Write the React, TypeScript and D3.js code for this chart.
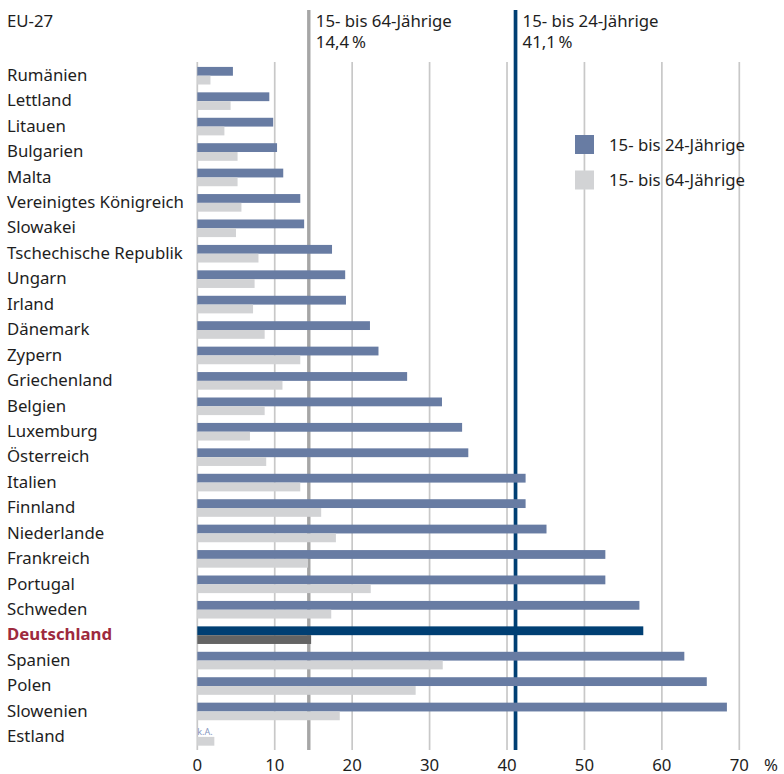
import React from "react";
import * as d3 from "d3";

const countries = [
  "Rumänien", "Lettland", "Litauen", "Bulgarien", "Malta", "Vereinigtes Königreich",
  "Slowakei", "Tschechische Republik", "Ungarn", "Irland", "Dänemark", "Zypern",
  "Griechenland", "Belgien", "Luxemburg", "Österreich", "Italien", "Finnland",
  "Niederlande", "Frankreich", "Portugal", "Schweden", "Deutschland", "Spanien",
  "Polen", "Slowenien", "Estland",
];
const youth: (number | null)[] = [
  4.6, 9.3, 9.8, 10.3, 11.1, 13.3, 13.8, 17.4, 19.1, 19.2, 22.3, 23.4, 27.1, 31.6,
  34.2, 35.0, 42.4, 42.4, 45.1, 52.7, 52.7, 57.1, 57.6, 62.9, 65.8, 68.4, null,
];
const total: number[] = [
  1.7, 4.3, 3.5, 5.2, 5.2, 5.7, 5.0, 7.9, 7.4, 7.2, 8.7, 13.3, 11.0, 8.7, 6.8, 8.9,
  13.3, 16.0, 17.9, 14.3, 22.4, 17.3, 14.7, 31.7, 28.2, 18.4, 2.2,
];
const xTicks = [0, 10, 20, 30, 40, 50, 60, 70];
const highlight = "Deutschland";
const euTotal = 14.4;
const euYouth = 41.1;
const seriesNames = ["15- bis 24-Jährige", "15- bis 64-Jährige"];

const FONT = "'Noto Sans', sans-serif";
const FS = 16.8;

export default function App() {
  const W = 784, H = 774;
  const x = d3.scaleLinear().domain([0, 70]).range([197.3, 739.3]);
  const y = d3.scaleBand<string>().domain(countries).range([63, 749.6]).padding(0);
  const bw = y.bandwidth();
  const barH = 8.8;
  const textColor = "#1e1e1e";

  return (
    <svg width={W} height={H} style={{ position: "absolute", left: 0, top: 0 }} fontFamily={FONT}>
      <rect width={W} height={H} fill="#fff" />
      {/* gridlines */}
      {xTicks.map((t) => (
        <line key={t} x1={x(t)} x2={x(t)} y1={62} y2={750} stroke="#c8c8c8" strokeWidth={1.7} />
      ))}
      {/* reference lines */}
      <line x1={x(euTotal)} x2={x(euTotal)} y1={10} y2={750} stroke="#a6a6a6" strokeWidth={3.4} />
      <line x1={x(euYouth)} x2={x(euYouth)} y1={10} y2={750} stroke="#003f73" strokeWidth={3.7} />
      <text x={x(euTotal) + 7} y={27} fontSize={FS} fill={textColor}>{seriesNames[1]}</text>
      <text x={x(euTotal) + 7} y={48} fontSize={FS} fill={textColor}>{"14,4\u2009%"}</text>
      <text x={x(euYouth) + 7} y={27} fontSize={FS} fill={textColor}>{seriesNames[0]}</text>
      <text x={x(euYouth) + 7} y={48} fontSize={FS} fill={textColor}>{"41,1\u2009%"}</text>
      <text x={7} y={27} fontSize={FS} fill={textColor}>EU-27</text>

      {/* bars */}
      {countries.map((c, i) => {
        const cy = (y(c) as number) + bw / 2;
        const hl = c === highlight;
        const v = youth[i];
        return (
          <g key={c}>
            {v !== null ? (
              <rect x={x(0)} y={cy - barH} width={x(v) - x(0)} height={barH} fill={hl ? "#003f73" : "#687ca3"} />
            ) : (
              <text x={x(0)} y={cy - 1.5} fontSize={9} fill="#8797c0">k.A.</text>
            )}
            <rect x={x(0)} y={cy} width={x(total[i]) - x(0)} height={barH} fill={hl ? "#646464" : "#d2d3d5"} />
            <text
              x={7}
              y={cy + 5.2}
              fontSize={FS}
              fill={hl ? "#9e2a3e" : textColor}
              fontWeight={hl ? 700 : 400}
            >
              {c}
            </text>
          </g>
        );
      })}

      {/* legend */}
      <rect x={575} y={135} width={19} height={19} fill="#687ca3" />
      <text x={609} y={150.5} fontSize={FS} fill={textColor}>{seriesNames[0]}</text>
      <rect x={575} y={170.5} width={19} height={19} fill="#d2d3d5" />
      <text x={609} y={186} fontSize={FS} fill={textColor}>{seriesNames[1]}</text>

      {/* axis labels */}
      {xTicks.map((t) => (
        <text key={t} x={x(t)} y={770.5} fontSize={FS} textAnchor="middle" fill={textColor}>{t}</text>
      ))}
      <text x={771} y={770.5} fontSize={FS} textAnchor="middle" fill={textColor}>%</text>
    </svg>
  );
}
